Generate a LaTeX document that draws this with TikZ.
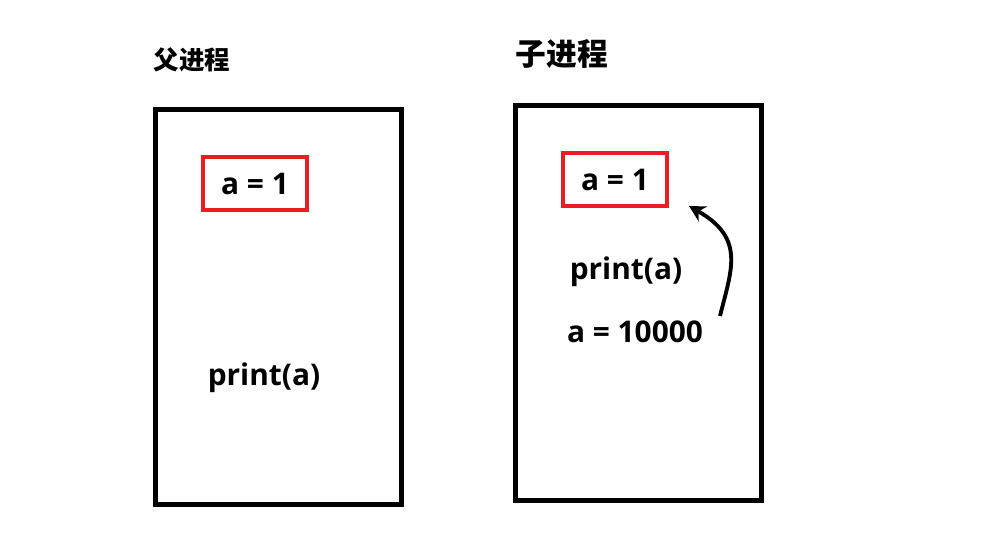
\documentclass[tikz,border=0pt]{standalone}
\usepackage{fontspec}
\setmainfont{Open Sans}
\newfontfamily\cjk{Noto Sans CJK SC}
\usepackage{tikz}
\usetikzlibrary{positioning}
\usetikzlibrary{arrows.meta}
\definecolor{paintred}{HTML}{ED1C24}

\begin{document}
\begin{tikzpicture}[x=0.02cm,y=-0.02cm,
  proc/.style={draw,line width=2.8pt,minimum width=4.92cm,minimum height=7.9cm,inner sep=0pt},
  var/.style={draw=paintred,line width=2.5pt,minimum width=2.08cm,minimum height=1.06cm,inner sep=0pt,font=\fontsize{17}{20}\bfseries},
  code/.style={font=\fontsize{17}{20}\bfseries,inner sep=0pt}]
\useasboundingbox (0,0) rectangle (1001,535);
\node[proc] (parent) at (278.5,307) {};
\node[proc] (child) at (638.75,303) {};
\node[font=\cjk\fontsize{14.5}{16}\bfseries] (ptitle) at (192,60) {父进程};
\node[font=\cjk\fontsize{17.5}{20}\bfseries] (ctitle) at (562,54) {子进程};
\node[var] (pvar) at (255,183.5) {a = 1};
\node[var] (cvar) at (615,179.5) {a = 1};
\node[code] (pprint) at (264,378) {print(a)};
\node[code] (cprint) at (626,272) {print(a)};
\node[code] (cset) at (635,332) {a = 10000};
\coordinate (from) at (720,316);
\coordinate (to) at (689,206);
\draw[line width=2.2pt,-{Stealth[length=0.32cm,width=0.34cm]}] (from) .. controls (732,268) and (745,238) .. (to);
\end{tikzpicture}
\end{document}
